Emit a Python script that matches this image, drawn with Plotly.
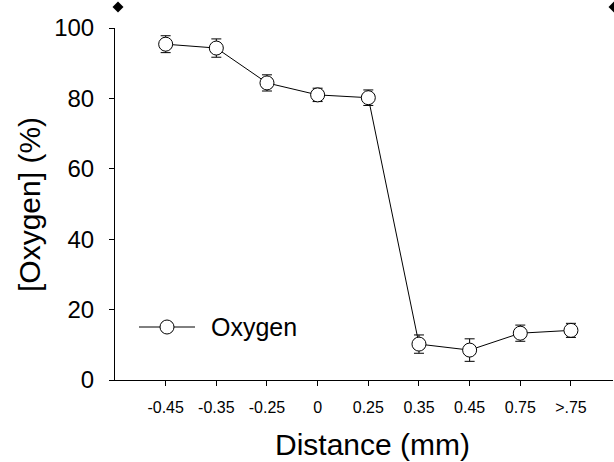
import plotly.graph_objects as go

categories = ["-0.45", "-0.35", "-0.25", "0", "0.25", "0.35", "0.45", "0.75", ">.75"]
oxygen = [95.4, 94.3, 84.4, 81.0, 80.2, 10.2, 8.5, 13.3, 14.1]
oxygen_err = [2.4, 2.6, 2.3, 1.9, 2.2, 2.6, 3.2, 2.3, 2.0]
y_ticks = [0, 20, 40, 60, 80, 100]

FONT = "Liberation Sans, Arial, sans-serif"
idx = list(range(len(categories)))

fig = go.Figure()
fig.add_trace(go.Scatter(
    x=idx, y=oxygen, mode="lines+markers", name="Oxygen",
    line=dict(color="black", width=1),
    marker=dict(symbol="circle", size=14, color="white",
                line=dict(color="black", width=1)),
    error_y=dict(type="data", array=oxygen_err, visible=True,
                 color="black", thickness=1, width=5),
    showlegend=False,
))

# custom legend (line + open circle + label)
lx0, lx1, ly = 139, 195, 327
W, H = 614, 462
L, R, T, B = 115, 1, 28, 82
pw, ph = W - L - R, H - T - B
def px(x):
    return (x - L) / pw
def py(y):
    return (H - B - y) / ph

DIAMOND = "M0,5.5 L5.5,0 L0,-5.5 L-5.5,0 Z"
shapes = [
    dict(type="line", xref="paper", yref="paper", x0=px(lx0), x1=px(lx1),
         y0=py(ly), y1=py(ly), line=dict(color="black", width=1)),
    dict(type="circle", xref="paper", yref="paper", xsizemode="pixel",
         ysizemode="pixel", xanchor=px(167), yanchor=py(ly),
         x0=-7, x1=7, y0=-7, y1=7, fillcolor="white",
         line=dict(color="black", width=1)),
    dict(type="path", xref="paper", yref="paper", xsizemode="pixel",
         ysizemode="pixel", xanchor=px(118), yanchor=py(7),
         path=DIAMOND, fillcolor="black", line=dict(color="black", width=0)),
    dict(type="path", xref="paper", yref="paper", xsizemode="pixel",
         ysizemode="pixel", xanchor=px(614), yanchor=py(7),
         path=DIAMOND, fillcolor="black", line=dict(color="black", width=0)),
]

fig.update_layout(
    width=W, height=H,
    margin=dict(l=L, r=R, t=T, b=B),
    paper_bgcolor="white", plot_bgcolor="white",
    font=dict(family=FONT, color="black"),
    shapes=shapes,
    annotations=[
        dict(text="Oxygen", xref="paper", yref="paper", x=px(209), y=py(ly),
             xanchor="left", yanchor="middle", showarrow=False,
             font=dict(size=25, family=FONT, color="black")),
        dict(text="Distance (mm)", xref="paper", yref="paper", x=px(372),
             y=py(444), xanchor="center", yanchor="middle", showarrow=False,
             font=dict(size=30, family=FONT, color="black")),
        dict(text="[Oxygen] (%)", xref="paper", yref="paper", x=px(29),
             y=py(205), xanchor="center", yanchor="middle", showarrow=False,
             textangle=-90, font=dict(size=30, family=FONT, color="black")),
    ],
    xaxis=dict(
        range=[-1.0, 8.83], tickmode="array", tickvals=idx, ticktext=categories,
        showgrid=False, zeroline=False, showline=True, linecolor="black",
        linewidth=1, ticks="outside", ticklen=5, tickcolor="black",
        tickwidth=1, tickfont=dict(size=16, family=FONT, color="black"),
        ticklabelstandoff=8,
    ),
    yaxis=dict(
        range=[0, 100], tickmode="array", tickvals=y_ticks,
        showgrid=False, zeroline=False, showline=True, linecolor="black",
        linewidth=1, ticks="outside", ticklen=5, tickcolor="black",
        tickwidth=1, tickfont=dict(size=24, family=FONT, color="black"),
        ticklabelstandoff=10,
    ),
)

fig.write_html("out.html", config={"displayModeBar": False},
               post_script="document.body.style.margin='0';")
